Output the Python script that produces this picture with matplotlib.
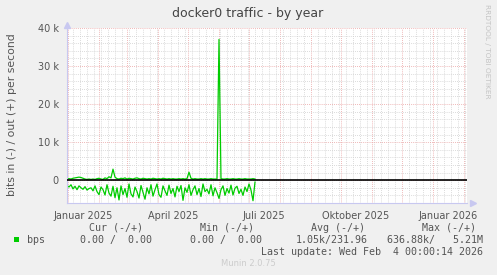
import numpy as np
import pandas as pd
import matplotlib
matplotlib.use('Agg')
import matplotlib.pyplot as plt
import matplotlib.dates as mdates
import matplotlib.transforms as mtransforms

# samples every 2 days starting 2024-12-31, values in kbit/s
bps_in_k = [1.4, 1.8, 1.2, 2.3, 1.6, 2.5, 1.5, 2.0, 2.4, 1.7, 2.6, 2.2,
            2.0, 2.8, 1.5, 3.0, 3.8, 1.8, 2.5, 3.9, 1.2, 3.4, 4.2, 1.6, 4.6,
            2.0, 5.2, 1.5, 3.8, 2.2, 4.5, 1.0, 3.6, 4.4, 1.8, 3.0, 4.7, 1.4, 3.2, 5.0, 2.0,
            3.6, 1.2, 4.2, 2.5, 1.0, 3.8, 4.5, 1.5, 2.8, 4.0, 1.3, 3.5, 2.2, 4.4, 1.6,
            3.0, 1.4, 5.3, 2.0, 3.2, 1.2, 4.0, 2.5, 1.5, 3.8, 2.2, 4.3, 1.0, 3.0, 2.4, 3.6, 1.2, 4.1, 2.0, 3.3,
            4.8, 2.5, 1.5, 4.0, 2.2, 3.4, 1.3, 3.9, 2.1, 1.6, 3.5, 2.4, 4.0, 1.8, 3.0, 1.0, 2.6, 5.4, 0.5]
bps_out_k = [0.3, 0.4, 0.3, 0.5, 0.6, 0.7, 0.8, 0.7, 0.5, 0.3, 0.2, 0.3,
             0.2, 0.3, 0.2, 0.4, 0.5, 0.3, 0.2, 0.6, 0.4, 0.9, 0.6, 2.9, 0.8,
             0.4, 0.3, 0.5, 0.4, 0.6, 0.3, 0.5, 0.4, 0.3, 0.5, 0.6, 0.4, 0.3, 0.5, 0.4, 0.3,
             0.4, 0.3, 0.5, 0.4, 0.3, 0.4, 0.3, 0.5, 0.4, 0.3, 0.4, 0.3, 0.4, 0.3, 0.3,
             0.4, 0.3, 0.4, 0.3, 0.4, 2.1, 0.5, 0.3, 0.4, 0.3, 0.3, 0.4, 0.3, 0.4, 0.3, 0.3, 0.4, 0.3, 0.3, 0.3,
             37.0, 0.4, 0.3, 0.3, 0.4, 0.3, 0.3, 0.4, 0.3, 0.3, 0.4, 0.3, 0.3, 0.4, 0.3, 0.3, 0.3, 0.4, 0.3]
dates = pd.date_range('2024-12-31', periods=len(bps_in_k), freq='2D')

x_start, x_end = pd.Timestamp('2024-12-31'), pd.Timestamp('2026-02-04')
month_labels = ['Januar 2025', 'April 2025', 'Juli 2025', 'Oktober 2025', 'Januar 2026']
label_dates = pd.to_datetime(['2025-01-16', '2025-04-16', '2025-07-16', '2025-10-16', '2026-01-16'])
ytick_vals = [0, 10000, 20000, 30000, 40000]
ytick_labels = ['0', '10 k', '20 k', '30 k', '40 k']

legend_cur = '0.00 /  0.00'
legend_min = '0.00 /  0.00'
legend_avg = '1.05k/231.96'
legend_max = '636.88k/   5.21M'
last_update = 'Last update: Wed Feb  4 00:00:14 2026'

W, H = 497, 275
fig = plt.figure(figsize=(W / 100, H / 100), dpi=100, facecolor='#f0f0f0')
ax = fig.add_axes([67 / W, 1 - 203 / H, 400 / W, 175 / H])
ax.set_facecolor('white')

green = '#00cc00'
ax.plot(dates, -np.array(bps_in_k) * 1000, color=green, lw=0.9)
ax.plot(dates, np.array(bps_out_k) * 1000, color=green, lw=0.9)
ax.axhline(0, color='black', lw=1.2, zorder=3)

ax.set_xlim(x_start, x_end)
ax.set_ylim(-6000, 40000)

# grid
ax.xaxis.set_major_locator(mdates.MonthLocator())
ax.xaxis.set_minor_locator(mdates.WeekdayLocator(byweekday=mdates.MO))
ax.set_yticks(ytick_vals)
ax.set_yticklabels(ytick_labels)
ax.set_yticks(np.arange(-4000, 40000, 2000), minor=True)
ax.set_xticklabels([])
ax.grid(which='minor', color='#cfcfcf', ls=(0, (1, 1.5)), lw=0.6)
ax.grid(which='major', color='#eaa0a0', ls=(0, (1, 1.5)), lw=0.6)
ax.set_axisbelow(True)
ax.tick_params(which='both', length=0)
ax.tick_params(axis='y', labelsize=7, labelcolor='#555555', pad=6)

trans = mtransforms.blended_transform_factory(ax.transData, ax.transAxes)
for d, lab in zip(label_dates, month_labels):
    ax.text(d, -0.045, lab, transform=trans, ha='center', va='top',
            fontsize=7, color='#555555')

for s in ['top', 'right']:
    ax.spines[s].set_visible(False)
for s in ['left', 'bottom']:
    ax.spines[s].set_color('#c8c8f0')
    ax.spines[s].set_linewidth(0.8)
ax.plot([0], [1.02], marker='^', color='#c8c8f0', ms=4, transform=ax.transAxes, clip_on=False)
ax.plot([1.015], [0], marker='>', color='#c8c8f0', ms=4, transform=ax.transAxes, clip_on=False)

def px(x, y):
    return x / W, 1 - y / H

fig.text(*px(248, 13), 'docker0 traffic - by year', ha='center', va='center',
         fontsize=9, color='#444444')
fig.text(*px(12, 115), 'bits in (-) / out (+) per second', rotation=90,
         ha='center', va='center', fontsize=7.8, color='#555555')
fig.text(*px(487, 4), 'RRDTOOL / TOBI OETIKER', rotation=270, ha='center', va='top',
         fontsize=5.3, color='#c4c4c4')

mono = dict(family='DejaVu Sans Mono', fontsize=7.2, color='#555555', va='center')
fig.text(*px(143, 228), 'Cur (-/+)', ha='right', **mono)
fig.text(*px(254, 228), 'Min (-/+)', ha='right', **mono)
fig.text(*px(365, 228), 'Avg (-/+)', ha='right', **mono)
fig.text(*px(476, 228), 'Max (-/+)', ha='right', **mono)
fig.text(*px(27, 240), 'bps', ha='left', **mono)
fig.text(*px(152, 240), legend_cur, ha='right', **mono)
fig.text(*px(262, 240), legend_min, ha='right', **mono)
fig.text(*px(368, 240), legend_avg, ha='right', **mono)
fig.text(*px(483, 240), legend_max, ha='right', **mono)
fig.text(*px(483, 252), last_update, ha='right', **mono)
fig.patches.append(plt.Rectangle(px(14, 242), 5 / W, 5 / H, transform=fig.transFigure,
                                 facecolor=green, edgecolor='none'))
fig.text(*px(248, 264), 'Munin 2.0.75', ha='center', va='center', fontsize=6, color='#cccccc')

fig.savefig('out.png', dpi=100, facecolor=fig.get_facecolor())
